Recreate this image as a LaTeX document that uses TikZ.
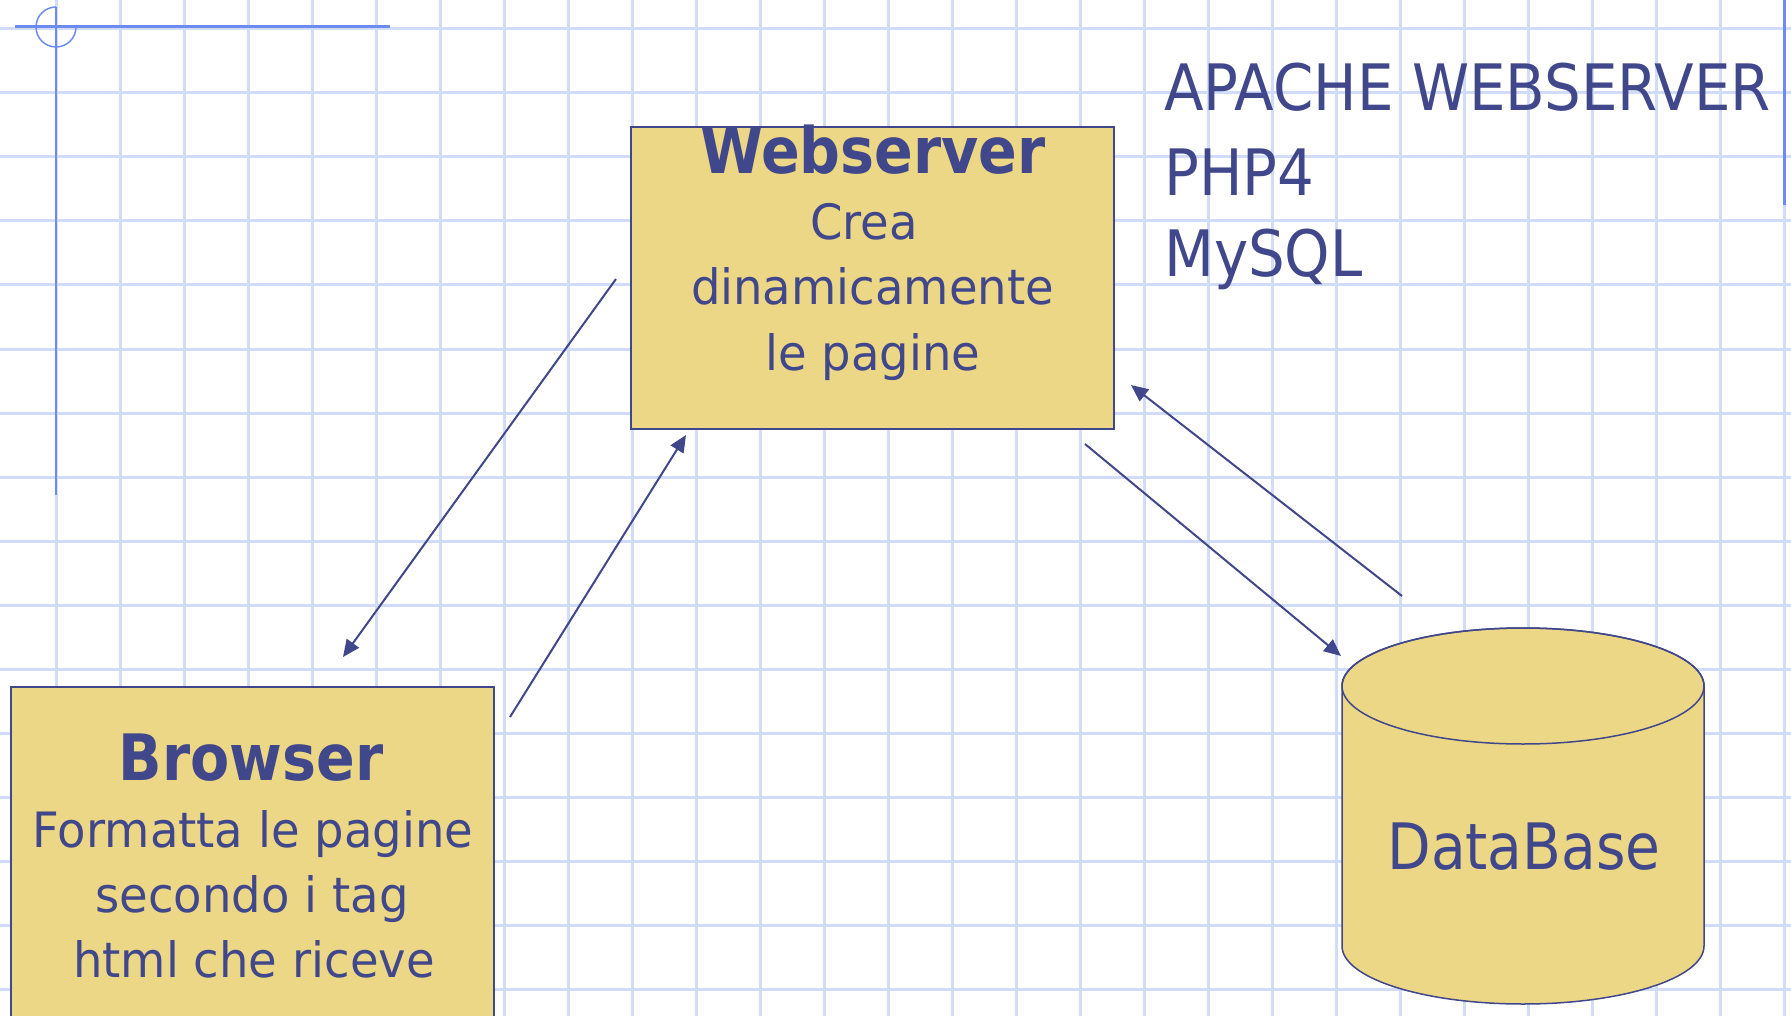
\documentclass[tikz,border=0pt]{standalone}
\usepackage{fontspec}
\setmainfont{DejaVu Sans}
\newfontfamily\bodyf{DejaVu Sans}[FakeStretch=0.955]
\newfontfamily\bigf{DejaVu Sans}[FakeStretch=0.903]
\newfontfamily\dbf{DejaVu Sans}[FakeStretch=0.885]
\newfontfamily\titlef{DejaVu Sans}[FakeStretch=0.892]
\usetikzlibrary{arrows.meta}
\definecolor{ink}{RGB}{65,71,139}
\definecolor{boxfill}{RGB}{235,215,133}
\definecolor{gridc}{RGB}{208,220,250}
\definecolor{guidec}{RGB}{110,140,240}
\tikzset{
  gridline/.style={draw=gridc, line width=3pt},
  guide/.style={draw=guidec},
  box/.style={draw=ink, fill=boxfill, line width=2pt, rectangle, inner sep=0pt},
  body/.style={text=ink, font=\bodyf\fontsize{48.7}{50}\selectfont, anchor=base, inner sep=0pt},
  big/.style={text=ink, font=\bigf\fontsize{64}{64}\selectfont, anchor=base west, inner sep=0pt},
  dblabel/.style={text=ink, font=\dbf\fontsize{64}{64}\selectfont, anchor=base, inner sep=0pt},
  title/.style={text=ink, font=\titlef\bfseries\fontsize{64}{64}\selectfont, anchor=base, inner sep=0pt},
  link/.style={draw=ink, line width=2pt, -{Triangle[length=17pt,width=15pt]}}
}
\begin{document}
\begin{tikzpicture}[x=1pt,y=-1pt]
\useasboundingbox (0,0) rectangle (1791,1016);
\clip (0,0) rectangle (1791,1016);
\fill[white] (0,0) rectangle (1791,1016);
% grid
\foreach \i in {0,...,27} \draw[gridline] ({56+64*\i},0) -- ({56+64*\i},1016);
\foreach \j in {0,...,15} \draw[gridline] (0,{29+64*\j}) -- (1791,{29+64*\j});
% guides
\draw[guide, line width=3pt] (15,27) -- (390,27);
\draw[guide, line width=2pt] (56,7) -- (56,495);
\draw[guide, line width=1.5pt] (56,7) arc[start angle=270, end angle=0, radius=20];
\draw[guide, line width=3pt] (1784,0) -- (1784,205);
% boxes
\node[box, minimum width=483pt, minimum height=302pt] (web) at (872.5,278) {};
\node[box, minimum width=483pt, minimum height=360pt] (browser) at (252.5,867) {};
% database cylinder
\node[minimum width=362pt, minimum height=378pt, inner sep=0pt] (db) at (1523,815) {};
\filldraw[fill=boxfill, draw=ink, line width=1.5pt]
  (1342,686) -- (1342,946) arc[start angle=180, end angle=0, x radius=181, y radius=58]
  -- (1704,686) arc[start angle=0, end angle=-180, x radius=181, y radius=58] -- cycle;
\draw[ink, line width=1.5pt] (1523,686) ellipse[x radius=181, y radius=58];
% texts
\node[title] (webT) at (873,174) {Webserver};
\node[body] (web1) at (864,240) {Crea};
\node[body] (web2) at (872.5,305) {dinamicamente};
\node[body] (web3) at (873,370) {le pagine};
\node[title] (brT) at (251,780) {Browser};
\node[body] (br1) at (253,847) {Formatta le pagine};
\node[body] (br2) at (252,912) {secondo i tag};
\node[body] (br3) at (254,977) {html che riceve};
\node[big] (apache) at (1164,111) {APACHE WEBSERVER};
\node[big] (php) at (1164,196) {PHP4};
\node[big] (mysql) at (1164,277) {MySQL};
\node[dblabel] (dbT) at (1524,869) {DataBase};
% connectors
\coordinate (a1s) at (616,279);
\coordinate (a1e) at (343,657);
\coordinate (a2s) at (510,717);
\coordinate (a2e) at (686,435);
\coordinate (a3s) at (1085,444);
\coordinate (a3e) at (1341,656);
\coordinate (a4s) at (1402,596);
\coordinate (a4e) at (1131,385);
\draw[link] (a1s) -- (a1e);
\draw[link] (a2s) -- (a2e);
\draw[link] (a3s) -- (a3e);
\draw[link] (a4s) -- (a4e);
\end{tikzpicture}
\end{document}
